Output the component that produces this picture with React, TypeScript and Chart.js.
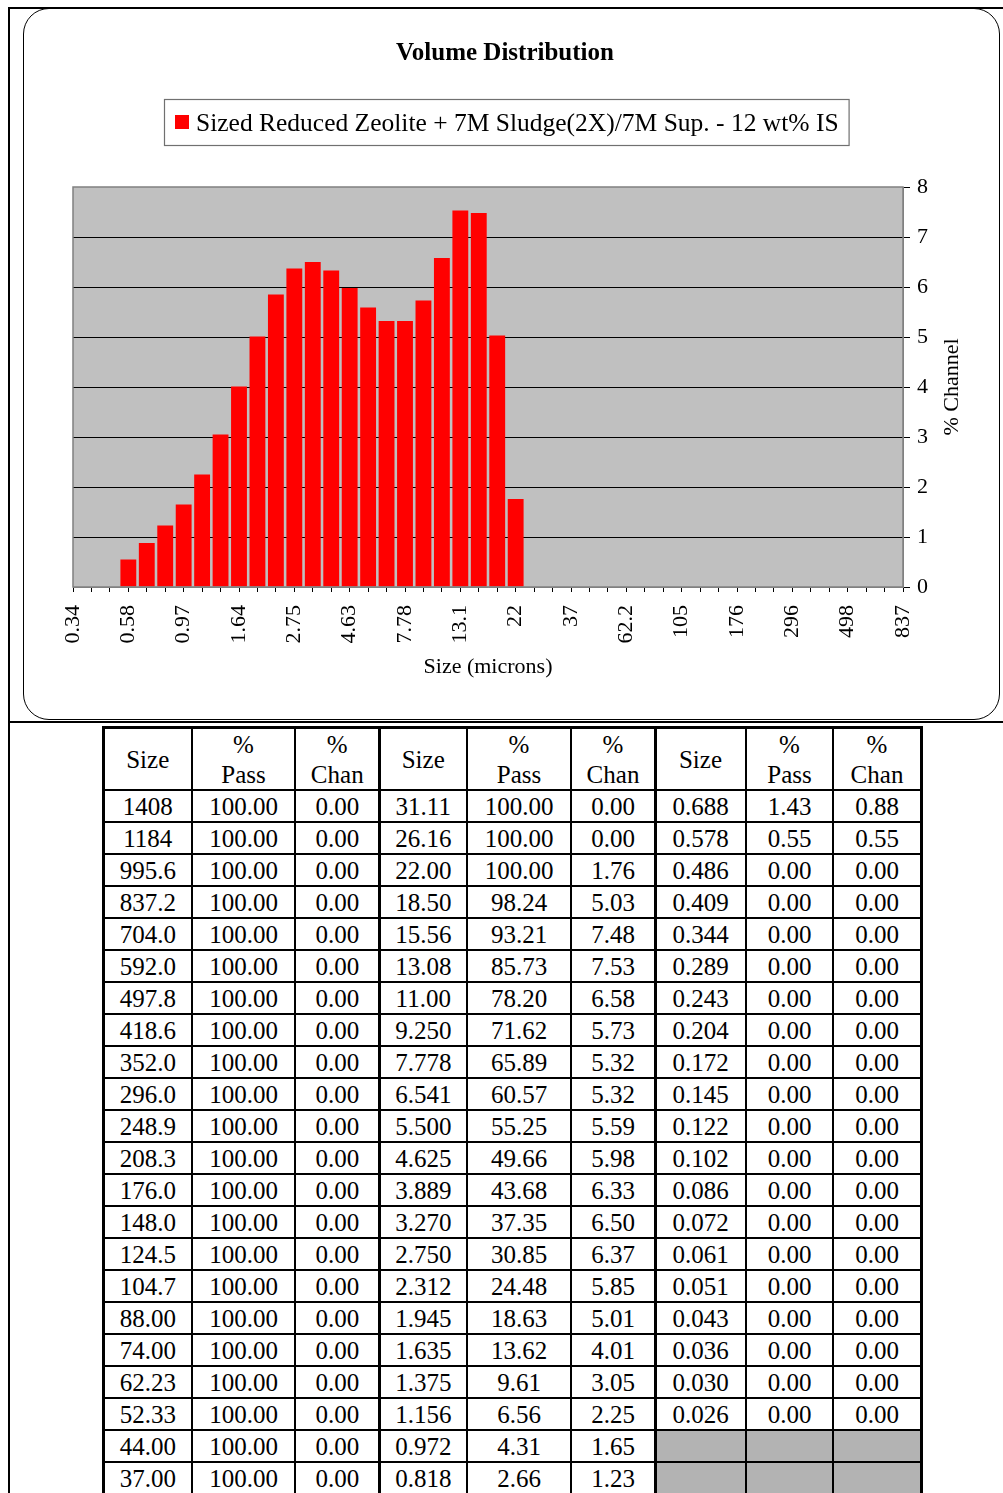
import React, { useEffect, useRef } from "react";
import { Chart, registerables } from "chart.js";

Chart.register(...registerables);

const FONT = "'Liberation Serif', 'Times New Roman', Times, serif";

// ---- chart data ----
const sizeCategories = [
  "0.344", "0.409", "0.486", "0.578", "0.688", "0.818", "0.972", "1.156", "1.375", "1.635",
  "1.945", "2.312", "2.750", "3.270", "3.889", "4.625", "5.500", "6.541", "7.778", "9.250",
  "11.00", "13.08", "15.56", "18.50", "22.00", "26.16", "31.11", "37.00", "44.00", "52.33",
  "62.23", "74.00", "88.00", "104.7", "124.5", "148.0", "176.0", "208.3", "248.9", "296.0",
  "352.0", "418.6", "497.8", "592.0", "704.0", "837.2",
];
const channelValues = [
  0, 0, 0, 0.55, 0.88, 1.23, 1.65, 2.25, 3.05, 4.01,
  5.01, 5.85, 6.37, 6.5, 6.33, 5.98, 5.59, 5.32, 5.32, 5.73,
  6.58, 7.53, 7.48, 5.03, 1.76, 0, 0, 0, 0, 0,
  0, 0, 0, 0, 0, 0, 0, 0, 0, 0,
  0, 0, 0, 0, 0, 0,
];
const xTickLabels = [
  "0.34", "0.58", "0.97", "1.64", "2.75", "4.63", "7.78", "13.1",
  "22", "37", "62.2", "105", "176", "296", "498", "837",
];
const yMin = 0;
const yMax = 8;
const yStep = 1;

const chartTitle = "Volume Distribution";
const seriesLabel = "Sized Reduced Zeolite + 7M Sludge(2X)/7M Sup. - 12 wt% IS";
const xAxisTitle = "Size (microns)";
const yAxisTitle = "% Channel";

// ---- table data ----
const tableHeaders = [["Size"], ["%", "Pass"], ["%", "Chan"]];
const tableSizes = [
  "1408", "1184", "995.6", "837.2", "704.0", "592.0", "497.8", "418.6", "352.0", "296.0", "248.9",
  "208.3", "176.0", "148.0", "124.5", "104.7", "88.00", "74.00", "62.23", "52.33", "44.00", "37.00",
  "31.11", "26.16", "22.00", "18.50", "15.56", "13.08", "11.00", "9.250", "7.778", "6.541", "5.500",
  "4.625", "3.889", "3.270", "2.750", "2.312", "1.945", "1.635", "1.375", "1.156", "0.972", "0.818",
  "0.688", "0.578", "0.486", "0.409", "0.344", "0.289", "0.243", "0.204", "0.172", "0.145", "0.122",
  "0.102", "0.086", "0.072", "0.061", "0.051", "0.043", "0.036", "0.030", "0.026",
];
const tablePass = [
  "100.00", "100.00", "100.00", "100.00", "100.00", "100.00", "100.00", "100.00", "100.00", "100.00", "100.00",
  "100.00", "100.00", "100.00", "100.00", "100.00", "100.00", "100.00", "100.00", "100.00", "100.00", "100.00",
  "100.00", "100.00", "100.00", "98.24", "93.21", "85.73", "78.20", "71.62", "65.89", "60.57", "55.25",
  "49.66", "43.68", "37.35", "30.85", "24.48", "18.63", "13.62", "9.61", "6.56", "4.31", "2.66",
  "1.43", "0.55", "0.00", "0.00", "0.00", "0.00", "0.00", "0.00", "0.00", "0.00", "0.00",
  "0.00", "0.00", "0.00", "0.00", "0.00", "0.00", "0.00", "0.00", "0.00",
];
const tableChan = [
  "0.00", "0.00", "0.00", "0.00", "0.00", "0.00", "0.00", "0.00", "0.00", "0.00", "0.00",
  "0.00", "0.00", "0.00", "0.00", "0.00", "0.00", "0.00", "0.00", "0.00", "0.00", "0.00",
  "0.00", "0.00", "1.76", "5.03", "7.48", "7.53", "6.58", "5.73", "5.32", "5.32", "5.59",
  "5.98", "6.33", "6.50", "6.37", "5.85", "5.01", "4.01", "3.05", "2.25", "1.65", "1.23",
  "0.88", "0.55", "0.00", "0.00", "0.00", "0.00", "0.00", "0.00", "0.00", "0.00", "0.00",
  "0.00", "0.00", "0.00", "0.00", "0.00", "0.00", "0.00", "0.00", "0.00",
];
const rowsPerGroup = 22;

// layout constants (page px)
const colLines = [103.5, 192, 295, 379.5, 467, 571, 655, 746, 833, 921];
const colLineW = [3, 2, 2, 3, 2, 2, 3, 2, 2, 3];
const tableTop = 727;
const headerBottom = 790;
const rowH = 32;

const decorPlugin = {
  id: "decor",
  beforeDraw(chart: any) {
    const { ctx, chartArea: a } = chart;
    ctx.save();
    ctx.fillStyle = "#C0C0C0";
    ctx.fillRect(a.left, a.top, a.right - a.left, a.bottom - a.top);
    ctx.restore();
  },
  afterDatasetsDraw(chart: any) {
    const { ctx, chartArea: a } = chart;
    ctx.save();
    ctx.strokeStyle = "#808080";
    ctx.lineWidth = 1.5;
    ctx.strokeRect(a.left, a.top, a.right - a.left, a.bottom - a.top);
    ctx.restore();
  },
  afterDraw(chart: any) {
    const { ctx, chartArea: a } = chart;
    ctx.save();
    ctx.fillStyle = "#000";
    // title
    ctx.font = `bold 25px ${FONT}`;
    ctx.textAlign = "center";
    ctx.textBaseline = "middle";
    ctx.fillText(chartTitle, 482, 45);
    // legend
    ctx.font = `25.5px ${FONT}`;
    const tw = ctx.measureText(seriesLabel).width;
    const boxW = 32 + tw + 10;
    const boxX = Math.round(483 - boxW / 2) + 0.5;
    const boxY = 90.5;
    ctx.strokeStyle = "#707070";
    ctx.lineWidth = 1.2;
    ctx.strokeRect(boxX, boxY, boxW, 46);
    ctx.fillStyle = "#FF0000";
    ctx.fillRect(boxX + 10.5, boxY + 15.5, 14, 14);
    ctx.fillStyle = "#000";
    ctx.textAlign = "left";
    ctx.fillText(seriesLabel, boxX + 31.5, boxY + 25);
    // y axis title
    ctx.font = `22px ${FONT}`;
    ctx.translate(929, (a.top + a.bottom) / 2);
    ctx.rotate(-Math.PI / 2);
    ctx.textAlign = "center";
    ctx.fillText(yAxisTitle, 0, 0);
    ctx.restore();
  },
};

function VolumeChart() {
  const ref = useRef<HTMLCanvasElement | null>(null);
  useEffect(() => {
    if (!ref.current) return;
    const chart = new Chart(ref.current, {
      type: "bar",
      data: {
        labels: sizeCategories,
        datasets: [
          {
            label: seriesLabel,
            data: channelValues,
            backgroundColor: "#FF0000",
            borderWidth: 0,
            barPercentage: 0.86,
            categoryPercentage: 1,
          },
        ],
      },
      options: {
        animation: false,
        responsive: false,
        devicePixelRatio: 1,
        layout: { padding: { left: 50, top: 178, right: 0, bottom: 0 } },
        plugins: {
          legend: { display: false },
          title: { display: false },
          tooltip: { enabled: false },
        },
        scales: {
          x: {
            type: "category",
            offset: false,
            grid: {
              offset: false,
              drawOnChartArea: false,
              drawTicks: true,
              tickLength: 5,
              color: "#000",
              tickColor: "#000",
            },
            border: { display: true, color: "#808080" },
            ticks: {
              autoSkip: false,
              minRotation: 90,
              maxRotation: 90,
              padding: 13,
              color: "#000",
              font: { family: FONT, size: 22 },
              callback: (_v: any, i: number) => (i % 3 === 0 ? xTickLabels[i / 3] : ""),
            },
            title: {
              display: true,
              text: xAxisTitle,
              color: "#000",
              font: { family: FONT, size: 22 },
              padding: { top: 0, bottom: 40 },
            },
            afterFit: (s: any) => {
              s.height = 133;
            },
          },
          y: {
            position: "right",
            min: yMin,
            max: yMax,
            ticks: {
              stepSize: yStep,
              padding: 7,
              color: "#000",
              font: { family: FONT, size: 22 },
            },
            grid: {
              color: (c: any) =>
                c.tick && (c.tick.value === yMin || c.tick.value === yMax) ? "rgba(0,0,0,0)" : "#000",
              tickColor: "#000",
              tickLength: 7,
              lineWidth: 1,
            },
            border: { display: true, color: "#808080" },
            afterFit: (s: any) => {
              s.width = 97;
            },
          },
        },
      },
      plugins: [decorPlugin],
    } as any);
    return () => chart.destroy();
  }, []);
  return (
    <canvas
      ref={ref}
      width={977}
      height={711}
      style={{ position: "absolute", left: 23, top: 9, width: 977, height: 711 }}
    />
  );
}

function DataTable() {
  const cells: React.ReactNode[] = [];
  const textStyle = (left: number, width: number, top: number, height: number): React.CSSProperties => ({
    position: "absolute",
    left,
    width,
    top,
    height,
    display: "flex",
    flexDirection: "column",
    alignItems: "center",
    justifyContent: "center",
    fontFamily: FONT,
    fontSize: 25,
    lineHeight: "30px",
    color: "#000",
  });
  for (let g = 0; g < 3; g++) {
    for (let c = 0; c < 3; c++) {
      const ci = g * 3 + c;
      const left = colLines[ci];
      const width = colLines[ci + 1] - colLines[ci];
      cells.push(
        <div key={`h-${ci}`} style={textStyle(left, width, tableTop + 2, headerBottom - tableTop - 1)}>
          {tableHeaders[c].map((t, k) => (
            <span key={k}>{t}</span>
          ))}
        </div>
      );
      for (let r = 0; r < rowsPerGroup; r++) {
        const idx = g * rowsPerGroup + r;
        const top = headerBottom + r * rowH;
        if (idx >= tableSizes.length) {
          cells.push(
            <div
              key={`g-${ci}-${r}`}
              style={{ position: "absolute", left, width, top, height: rowH, background: "#B3B3B3" }}
            />
          );
          continue;
        }
        const val = c === 0 ? tableSizes[idx] : c === 1 ? tablePass[idx] : tableChan[idx];
        cells.push(
          <div key={`c-${ci}-${r}`} style={textStyle(left, width, top + 1, rowH)}>
            {val}
          </div>
        );
      }
    }
  }
  const lines: React.ReactNode[] = [];
  colLines.forEach((x, i) => {
    const w = colLineW[i];
    lines.push(
      <div
        key={`v-${i}`}
        style={{ position: "absolute", left: x - w / 2, top: tableTop - 1.5, width: w, height: 900, background: "#000" }}
      />
    );
  });
  const left = colLines[0] - 1.5;
  const right = colLines[colLines.length - 1] + 1.5;
  lines.push(
    <div key="ht" style={{ position: "absolute", left, top: tableTop - 1.5, width: right - left, height: 3, background: "#000" }} />
  );
  for (let r = 0; r <= rowsPerGroup; r++) {
    const y = headerBottom + r * rowH;
    lines.push(
      <div key={`hl-${r}`} style={{ position: "absolute", left, top: y - 1, width: right - left, height: 2, background: "#000" }} />
    );
  }
  return (
    <>
      {cells}
      {lines}
    </>
  );
}

export default function App() {
  return (
    <div
      style={{
        position: "absolute",
        left: 0,
        top: 0,
        width: 1003,
        height: 1493,
        overflow: "hidden",
        background: "#fff",
      }}
    >
      {/* outer frame */}
      <div
        style={{
          position: "absolute",
          left: 8,
          top: 7,
          width: 1200,
          height: 2000,
          borderLeft: "2px solid #000",
          borderTop: "2px solid #000",
        }}
      />
      {/* rounded chart area */}
      <div
        style={{
          position: "absolute",
          left: 23,
          top: 8,
          width: 977,
          height: 712,
          boxSizing: "border-box",
          border: "1.5px solid #000",
          borderRadius: 26,
        }}
      />
      {/* separator line */}
      <div style={{ position: "absolute", left: 8, top: 721, width: 1000, height: 2, background: "#000" }} />
      <VolumeChart />
      <DataTable />
    </div>
  );
}
